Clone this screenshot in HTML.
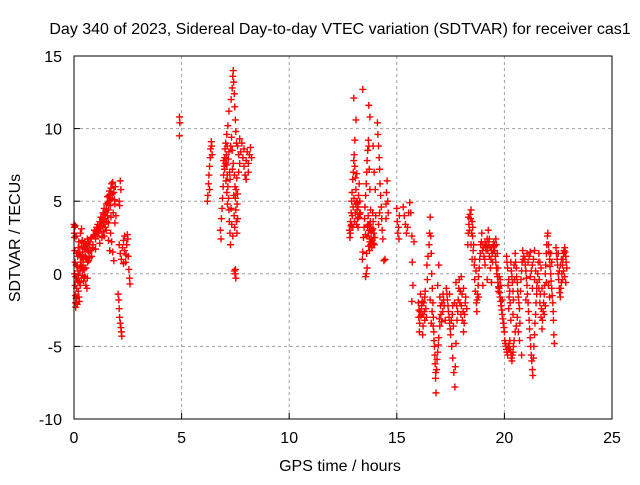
<!DOCTYPE html>
<html><head><meta charset="utf-8"><style>
body{margin:0;background:#fff;}
svg text{font-family:"Liberation Sans",sans-serif;font-size:16px;fill:#000;}
</style></head><body>
<svg id="chart" width="640" height="480" xmlns="http://www.w3.org/2000/svg">
<rect width="640" height="480" fill="#fff"/>
<text x="340" y="34" text-anchor="middle">Day 340 of 2023, Sidereal Day-to-day VTEC variation (SDTVAR) for receiver cas1</text>
<g id="grid"></g>
<g id="ticks"></g>
<g id="marks"></g>
<rect x="74" y="56" width="538" height="363" fill="none" stroke="#000" stroke-width="1"/>
<text x="340" y="471" text-anchor="middle">GPS time / hours</text>
<text transform="translate(20,238) rotate(-90)" text-anchor="middle">SDTVAR / TECUs</text>
</svg>
<script>
const xTicks=[0,5,10,15,20,25];
const yTicks=[-10,-5,0,5,10,15];
const seg1=[[0,3.4],[0.02,3.2],[0.03,2.5],[0.04,1.6],[0.05,0.8],[0.03,0],[0.05,-0.8],[0.06,-1.5],[0.07,-2],[0.08,-2.3],[0.1,-1.7],[0.12,-1],[0.14,-0.3],[0.15,0.5],[0.17,1.2],[0.2,1.8],[0.22,2.2],[0.18,-0.5],[0.2,-1.2],[0.23,-1.6],[0.25,-0.6],[0.28,0.2],[0.3,0.8],[0.32,1.3],[0.35,1.9],[0.38,2.3],[0.4,1.5],[0.42,0.6],[0.45,1],[0.48,1.8],[0.5,2.2],[0.52,1.2],[0.55,0.4],[0.58,1.1],[0.6,1.9],[0.62,2.4],[0.65,1.6],[0.68,0.9],[0.7,1.5],[0.72,2],[0.3,2.8],[0.35,3.1],[0.45,-0.5],[0.5,-0.2],[0.55,-0.8],[0.25,-1.9],[0.15,-2.1],[0.6,-1],[0.62,-0.3],[0.4,-0.1]];
const seg1b=[[0.27,1.5],[0.33,0.5],[0.37,1.1],[0.43,2.1],[0.47,0.3],[0.53,1.7],[0.57,2.0],[0.63,0.8],[0.67,2.2],[0.73,1.1],[0.78,1.6],[0.82,1.2],[0.88,2.0],[0.1,0.6],[0.12,1.4],[0.08,-0.2],[0.13,-1.6],[0.19,0.2],[0.21,-0.1],[0.29,-0.8],[0.34,-0.3],[0.39,0.4],[0.02,2.8],[0.06,3.3],[0.1,2.6]];
const seg2=[[0.75,2.2],[0.8,2.5],[0.85,1.8],[0.9,2.6],[0.95,3],[1,2.4],[1.05,3.2],[1.1,3.4],[1.15,2.8],[1.2,3.6],[1.25,3.9],[1.3,3.3],[1.35,4.2],[1.4,4.5],[1.45,3.8],[1.5,4.8],[1.55,5.3],[1.6,4.4],[1.65,5.7],[1.7,5.2],[1.75,6.2],[1.8,6.3],[1.85,5.6],[1.9,4.8],[1.95,4],[1.6,3.5],[1.7,2.8],[1.75,2.2],[1.8,1.5],[1.85,0.9],[1.4,2.6],[1.5,3],[1.9,3.5],[1.65,5],[1.55,4],[1.3,2.5],[1.0,1.7],[1.2,2.1]];
const seg2b=[[0.97,2.7],[1.02,2.9],[1.08,2.6],[1.12,3.0],[1.18,3.3],[1.22,3.1],[1.28,3.6],[1.32,3.8],[1.38,3.5],[1.42,4.1],[1.48,4.3],[1.52,3.6],[1.58,4.9],[1.62,5.4],[1.68,4.7],[1.72,5.9],[1.78,5.5],[1.82,4.2],[1.88,5.1],[1.92,6.0],[1.6,2.3],[1.66,1.6],[1.72,3.9],[1.45,3.2],[1.35,2.9]];
const seg3=[[2.05,-1.4],[2.08,-1.8],[2.1,-2.4],[2.12,-3],[2.15,-3.4],[2.18,-3.7],[2.2,-4],[2.22,-4.3],[2.1,5],[2.12,4.7],[2.15,6.4],[2.18,5.8],[2.1,2],[2.15,1.4],[2.2,1],[2.25,1.8],[2.3,2.3],[2.35,1.6],[2.4,0.8],[2.42,1.3],[2.45,2],[2.48,2.7],[2.5,2.4],[2.52,1.2],[2.55,0.3],[2.58,-0.3],[2.6,-0.7],[2.35,2.6],[2.3,0.7]];
const seg4=[[4.9,10.8],[4.92,10.4],[4.9,9.5],[6.2,5],[6.22,5.4],[6.25,6.2],[6.27,6.8],[6.3,7.4],[6.33,8],[6.35,8.6],[6.38,9.1],[6.4,8.8],[6.42,8.2],[6.3,5.8]];
const seg5=[[6.8,3],[6.83,2.4],[6.85,3.8],[6.88,4.5],[6.9,5.2],[6.93,6],[6.95,6.8],[6.98,7.4],[7,8],[7.02,8.6],[7.05,9],[7.08,8.2],[7.1,7.5],[7.12,6.8],[7.15,6],[7.18,5.2],[7.2,4.4],[7.22,3.6],[7.25,2.8],[7.27,2],[7.1,9.6],[7.15,10.2],[7.2,11.2],[7.3,12],[7.35,12.8],[7.38,13.6],[7.4,14],[7.42,13.2],[7.45,12.4],[7.47,11.5],[7.5,10.6],[7.52,9.8],[7.55,9],[7.35,8.5],[7.4,7.6],[7.45,6.8],[7.48,6],[7.5,5.2],[7.52,4.4],[7.55,3.6],[7.57,2.8],[7.6,3.8],[7.5,0.3],[7.48,0],[7.52,-0.3],[7.45,0.2],[7.3,4.5],[7.25,6.5],[7.6,5.5],[7.58,4.8]];
const seg5b=[[6.95,7.8],[7.0,7.2],[7.03,7.6],[7.06,6.4],[7.1,5.6],[7.13,4.8],[7.17,7.9],[7.2,8.4],[7.23,7.0],[7.28,8.8],[7.32,9.4],[7.36,7.2],[7.42,5.4],[7.44,4.0],[7.47,3.2],[7.53,5.8],[7.56,6.6],[7.33,3.4],[7.38,2.6],[7.12,8.8]];
const seg6=[[7.6,8.8],[7.65,8.2],[7.7,7.6],[7.75,8.4],[7.8,9],[7.85,8],[7.9,7.4],[7.95,6.8],[8,7.8],[8.05,8.4],[8.1,7.6],[8.15,8.2],[8.2,8.7],[8.25,8],[8.1,7],[7.7,9.3],[7.9,8.6],[8.0,6.5],[7.65,7]];
const seg7=[[12.8,3],[12.82,2.5],[12.85,3.6],[12.88,4.2],[12.9,5],[12.92,5.6],[12.95,6.5],[12.98,7],[13,7.8],[13.02,8.2],[13.05,7.4],[13.08,6.6],[13.1,5.8],[13.12,5],[13.15,4.4],[13.18,3.8],[13.2,4.6],[13.22,5.4],[13.25,6.2],[13.28,5],[13.3,4.2],[13.0,12.1],[13.05,9.2],[13.1,10.6],[13.42,12.7],[12.9,3.4],[13.2,3.2]];
const seg7b=[[12.84,2.8],[12.87,3.3],[12.93,4.0],[12.97,4.6],[13.03,3.6],[13.07,4.2],[13.13,3.4],[13.17,4.9],[13.23,3.9],[13.27,4.1],[12.96,3.2],[13.01,5.2],[13.09,4.8],[13.14,6.9]];
const seg8=[[13.4,1],[13.42,1.5],[13.45,2.5],[13.48,3.2],[13.5,3.8],[13.52,4.6],[13.55,5.4],[13.58,6.2],[13.6,7],[13.62,7.8],[13.65,8.5],[13.68,9.2],[13.7,8.8],[13.72,7.2],[13.75,5.8],[13.78,4.4],[13.8,3.2],[13.82,2.4],[13.85,3],[13.88,4.2],[13.9,3.6],[13.92,2.8],[13.95,2],[13.98,2.5],[13.55,2.7],[13.6,1.4],[13.58,0],[13.55,-0.2],[13.62,0.4],[13.7,3.4],[13.75,2.2],[14,5.8],[14.02,4],[13.95,7],[13.9,8.8],[13.75,10.8],[13.7,11.6]];
const seg8b=[[13.66,2.6],[13.69,1.9],[13.72,3.0],[13.74,2.4],[13.77,3.6],[13.79,2.0],[13.81,2.9],[13.84,1.8],[13.86,2.3],[13.89,3.1],[13.91,2.1],[13.64,3.3],[13.67,4.0],[13.73,1.6]];
const seg9=[[14.1,10.4],[14.12,9.6],[14.15,8.8],[14.18,8],[14.2,7.2],[14.22,6.2],[14.25,5.4],[14.28,4.6],[14.3,3.8],[14.32,3],[14.35,2.4],[14.2,4.2],[14.15,3.4],[14.4,0.9],[14.45,1],[14.5,4.8],[14.52,5.6],[14.55,6.4],[14.58,5],[14.5,3.8],[14.6,4.2],[15.0,4.5],[15.02,3.6],[15.05,2.8],[15.1,2.4],[15.08,3.2],[15.12,4]];
const seg10=[[15.3,4.6],[15.35,4],[15.4,3.4],[15.45,2.8],[15.5,3.2],[15.55,4.2],[15.6,4.9],[15.65,4.2],[15.7,2.6],[15.72,0.8],[15.75,-0.8],[15.7,-1.9],[15.8,2.2]];
const seg11=[[16,-2],[16.02,-3],[16.05,-4],[16.08,-2.6],[16.1,-1.4],[16.15,-2.2],[16.2,-2.8],[16.25,-2],[16.3,-1.6],[16.35,-2.4],[16.4,0.6],[16.42,-0.4],[16.45,1.2],[16.5,2],[16.52,2.8],[16.55,3.9],[16.58,2.6],[16.6,1.4],[16.62,0],[16.65,-1],[16.68,-2],[16.7,-3],[16.72,-4],[16.75,-5],[16.78,-6.2],[16.8,-7.2],[16.82,-8.2],[16.85,-6.6],[16.9,-5.4],[16.95,-4.4],[17,-3.6],[17.05,-2.8],[17.1,-2],[17.15,-1.4],[17.2,-2.2],[17.25,-3.2],[16.9,-0.8],[16.95,0.6],[17.0,-1.6],[16.6,-3.4],[16.55,-1.8],[16.2,-4.2],[16.3,-3.2]];
const seg11b=[[16.03,-2.5],[16.06,-3.4],[16.12,-2.9],[16.18,-1.9],[16.22,-3.6],[16.28,-2.6],[16.32,-1.2],[16.38,-3.0],[16.64,-2.6],[16.69,-3.6],[16.73,-4.6],[16.77,-5.6],[16.81,-6.8],[16.87,-5.9],[16.93,-4.9],[16.98,-3.1],[17.03,-2.2],[17.08,-3.3],[17.13,-2.6],[17.18,-1.8]];
const seg12=[[17.3,-1],[17.35,-1.8],[17.4,-2.6],[17.45,-3.4],[17.5,-4.2],[17.55,-5],[17.6,-5.8],[17.65,-6.8],[17.7,-7.8],[17.72,-6.4],[17.75,-4.8],[17.8,-3.2],[17.85,-1.8],[17.9,-0.4],[17.95,-1.2],[18,-2.2],[18.05,-3.2],[18.1,-4],[18.15,-2.8],[18.2,-1.6],[18.25,-2.4],[17.45,-1.4],[17.6,-2.2],[17.75,-0.6],[18.0,-0.2],[18.1,-1]];
const seg12b=[[17.33,-1.4],[17.38,-2.2],[17.43,-3.0],[17.48,-3.8],[17.53,-3.2],[17.58,-2.8],[17.63,-3.6],[17.68,-2.0],[17.78,-2.2],[17.83,-2.6],[17.88,-1.0],[17.93,-2.0],[17.98,-2.8],[18.03,-1.4],[18.08,-2.6],[18.13,-3.4],[18.18,-2.0]];
const seg13=[[18.3,2],[18.32,2.8],[18.35,3.4],[18.4,4.1],[18.45,4.4],[18.5,3.6],[18.52,2.6],[18.55,1.6],[18.6,0.6],[18.62,-0.4],[18.65,-1.2],[18.7,-2],[18.72,-2.6],[18.75,-1.4],[18.8,-0.2],[18.85,1],[18.9,2],[18.95,2.8],[19,2],[19.05,1.2],[19.1,0.6],[19.15,1.6],[19.2,2.4],[19.25,3],[19.28,2.2],[19.3,1.2],[19.35,0.4],[19.4,-0.6],[19.45,0.8],[19.5,1.6],[18.5,1],[18.45,2],[18.8,-1.6],[19.0,-0.8],[19.2,-0.4],[19.4,1.6]];
const seg13b=[[18.33,3.9],[18.38,3.0],[18.43,3.8],[18.48,2.8],[18.53,3.2],[18.57,2.0],[18.63,1.0],[18.68,0.2],[18.73,-1.8],[18.78,-0.8],[18.83,0.4],[18.88,1.4],[18.93,2.2],[18.98,1.6],[19.03,1.8],[19.08,1.0],[19.13,1.9],[19.18,2.0],[19.23,1.6],[19.33,1.8],[19.38,1.0],[19.43,1.4],[19.48,2.0],[19.1,2.2],[19.3,2.4]];
const seg14=[[19.5,2.2],[19.55,1.6],[19.6,0.8],[19.65,0],[19.7,-0.6],[19.75,-1],[19.8,-1.6],[19.85,-2.2],[19.9,-2.8],[19.95,-3.4],[20,-4],[20.02,-4.6],[19.6,2.4],[19.7,0.4],[19.8,-0.4],[19.9,-1.8]];
const seg14b=[[19.53,1.9],[19.58,1.2],[19.63,0.4],[19.68,-0.2],[19.73,-0.9],[19.78,-1.3],[19.83,-1.9],[19.88,-2.5],[19.93,-3.1],[19.98,-3.7],[19.62,2.0],[19.67,1.4],[19.72,-1.2],[19.76,-0.2],[19.82,-0.8]];
const seg15=[[20.05,-4.8],[20.1,-5.2],[20.15,-5.6],[20.2,-5.2],[20.25,-4.6],[20.3,-5.4],[20.35,-6],[20.4,-5.4],[20.45,-4.6],[20.5,-4],[20.1,1.2],[20.15,0.4],[20.2,-0.4],[20.25,-1.2],[20.3,0.8],[20.35,-0.2],[20.4,-1.2],[20.45,0.6],[20.5,1.4],[20.55,0.4],[20.6,-0.6],[20.65,-1.6],[20.7,-2.4],[20.75,-1.2],[20.8,0.2],[20.85,1.6],[20.9,1.2],[20.2,-2.4],[20.3,-3.2],[20.4,-2.8],[20.6,-3],[20.7,-4.6],[20.8,-5.6]];
const seg15b=[[20.07,-5.0],[20.12,-5.4],[20.17,-5.0],[20.22,-4.8],[20.27,-5.2],[20.32,-5.8],[20.37,-5.6],[20.42,-5.0],[20.12,0.8],[20.17,-0.8],[20.22,-1.6],[20.27,-2.0],[20.32,0.2],[20.37,-0.6],[20.42,-1.8],[20.47,-0.4],[20.52,0.8],[20.57,-0.2],[20.62,-1.2],[20.67,-2.0],[20.72,-3.4],[20.77,-0.4],[20.82,0.8],[20.87,1.0],[20.55,-3.6],[20.65,-4.0]];
const seg16=[[20.95,1],[21,0.2],[21.05,-0.8],[21.1,-2],[21.15,-3.2],[21.2,-4.4],[21.25,-5.6],[21.3,-6.6],[21.32,-7],[21.35,-5.8],[21.4,-4.2],[21.45,-2.8],[21.5,-1.4],[21.55,0],[21.6,1.4],[21.1,0.8],[21.2,-0.2],[21.3,0.6],[21.4,1.6],[21.45,0.2],[21.5,-1],[21.0,-1.8],[21.2,1.5]];
const seg16b=[[20.97,0.6],[21.02,-0.3],[21.07,-1.4],[21.12,-2.6],[21.17,-3.8],[21.22,-5.0],[21.27,-6.0],[21.37,-5.0],[21.42,-3.4],[21.47,-2.0],[21.52,-0.6],[21.57,0.8],[21.15,1.2],[21.25,0.2],[21.35,1.0],[21.05,1.4],[21.3,-1.0],[21.4,-0.4]];
const seg17=[[21.6,-1],[21.65,-2],[21.7,-3],[21.75,-3.8],[21.8,-2.6],[21.85,-1.4],[21.9,0],[21.95,1.4],[22,2.6],[22.02,2.8],[22.05,2],[22.1,1],[22.15,0],[22.2,-1],[22.25,-2],[22.28,-3.2],[22.3,-4.2],[22.32,-4.8],[22.1,-1.6],[21.9,-2.2],[21.7,0.4],[22.2,0.8]];
const seg17b=[[21.62,-0.4],[21.67,-1.4],[21.72,-2.4],[21.77,-3.2],[21.82,-2.0],[21.87,-0.8],[21.92,0.6],[21.97,2.0],[22.07,1.5],[22.12,0.5],[22.17,-0.5],[22.22,-1.5],[22.27,-2.6],[21.65,0.8],[21.75,-1.0],[21.85,-2.8],[21.95,-0.6],[22.05,-0.8],[22.15,1.4]];
const seg18=[[22.4,1.8],[22.45,1],[22.5,0],[22.55,-1],[22.6,-1.6],[22.65,-0.6],[22.7,0.6],[22.75,1.4],[22.8,1.8],[22.85,1.2],[22.9,0.4],[22.5,1.4],[22.6,0.6],[22.7,-0.4],[22.85,-0.6]];
const seg18b=[[22.42,1.4],[22.47,0.6],[22.52,-0.4],[22.57,-1.3],[22.62,-1.0],[22.67,0.0],[22.72,1.0],[22.77,1.6],[22.82,1.5],[22.87,0.8],[22.55,0.2],[22.65,1.0],[22.75,0.2],[22.8,-0.2]];
const series=[seg1,seg1b,seg2,seg2b,seg3,seg4,seg5,seg5b,seg6,seg7,seg7b,seg8,seg8b,seg9,seg10,seg11,seg11b,seg12,seg12b,seg13,seg13b,seg14,seg14b,seg15,seg15b,seg16,seg16b,seg17,seg17b,seg18,seg18b];

const L=74,R=612,T=56,B=419;
const xMin=0,xMax=25,yMin=-10,yMax=15;
function xs(v){return L+(v-xMin)/(xMax-xMin)*(R-L);}
function ys(v){return B-(v-yMin)/(yMax-yMin)*(B-T);}
const NS='http://www.w3.org/2000/svg';
const grid=document.getElementById('grid'),ticks=document.getElementById('ticks'),marks=document.getElementById('marks');
function mk(tag,attrs,parent){const e=document.createElementNS(NS,tag);for(const k in attrs)e.setAttribute(k,attrs[k]);parent.appendChild(e);return e;}
xTicks.forEach(t=>{
  const x=xs(t);
  if(t>xMin&&t<xMax){const g=mk('line',{x1:x,x2:x,y1:T,y2:B,stroke:'#a0a0a0','stroke-dasharray':'3,3'},grid);
  
  }
  const tk=mk('line',{x1:x,x2:x,y1:B,y2:B-6,stroke:'#000'},ticks);
  
  
  const tx=mk('text',{x:x,y:B+24,'text-anchor':'middle'},ticks);tx.textContent=t;
  
  
});
yTicks.forEach(t=>{
  const y=ys(t);
  if(t>yMin&&t<yMax){const g=mk('line',{x1:L,x2:R,y1:y,y2:y,stroke:'#a0a0a0','stroke-dasharray':'3,3'},grid);
  
  }
  const tk=mk('line',{x1:L,x2:L+6,y1:y,y2:y,stroke:'#000'},ticks);
  
  
  const tx=mk('text',{x:L-12,y:y+6,'text-anchor':'end'},ticks);tx.textContent=t;
  
  
});
let d='';
series.forEach(seg=>seg.forEach(p=>{const x=xs(p[0]),y=ys(p[1]);d+='M'+(x-3.5)+' '+y+'h7M'+x+' '+(y-3.5)+'v7';}));
const pth=mk('path',{d:d,stroke:'#ff0000','stroke-width':1.4,fill:'none'},marks);


</script>
</body></html>
